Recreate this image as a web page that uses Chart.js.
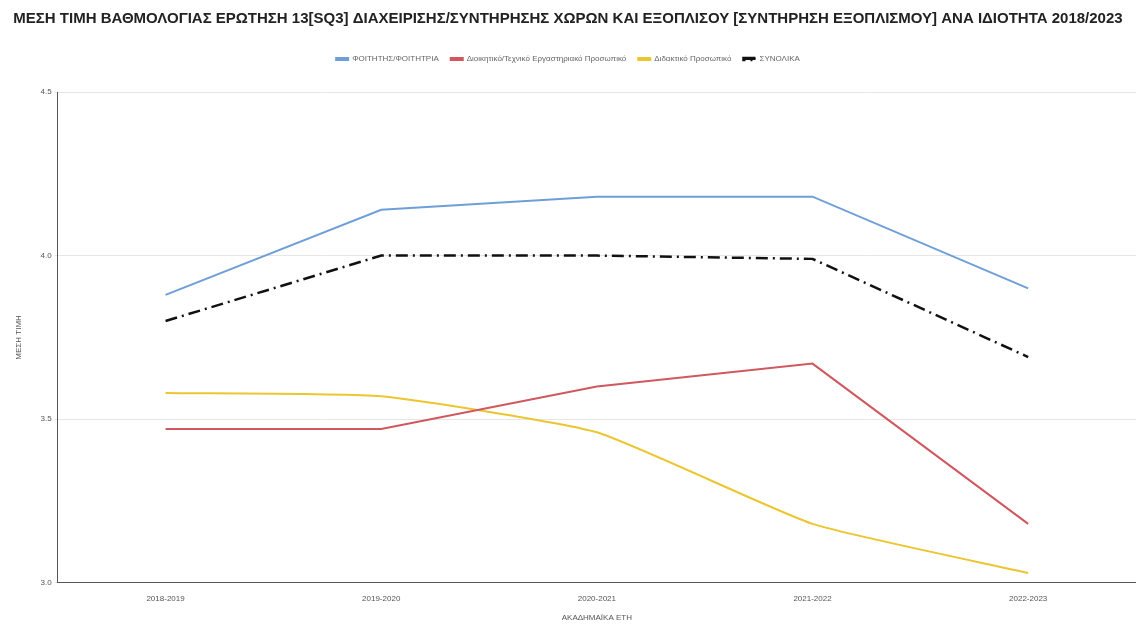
<!DOCTYPE html>
<html>
<head>
<meta charset="utf-8">
<script src="https://cdn.jsdelivr.net/npm/chart.js@4"></script>
<style>
  html, body { margin: 0; padding: 0; background: #fff; }
  #wrap { width: 1136px; height: 630px; position: relative; }
</style>
</head>
<body>
<div id="wrap"><canvas id="chart"></canvas></div>
<script>
// ακαδημαϊκά έτη
var years = ['2018-2019', '2019-2020', '2020-2021', '2021-2022', '2022-2023'];

// μέσες τιμές ανά ιδιότητα
var foitites = [3.88, 4.14, 4.18, 4.18, 3.90];
var dioikitiko = [3.47, 3.47, 3.60, 3.67, 3.18];
var didaktiko = [3.58, 3.57, 3.46, 3.18, 3.03];
var synolika = [3.80, 4.00, 4.00, 3.99, 3.69];

var yTicks = [3.0, 3.5, 4.0, 4.5];

// extra space under the legend
var legendSpace = {
  id: 'legendSpace',
  beforeInit: function (chart) {
    var fit = chart.legend.fit;
    chart.legend.fit = function () {
      fit.bind(chart.legend)();
      this.height += 19;
    };
  }
};

var ctx = document.getElementById('chart');
var myChart = new Chart(ctx, {
  type: 'line',
  data: {
    labels: years,
    datasets: [{
      label: 'ΦΟΙΤΗΤΗΣ/ΦΟΙΤΗΤΡΙΑ',
      data: foitites,
      borderColor: '#6f9fd8',
      backgroundColor: '#6f9fd8',
      borderWidth: 2,
      pointRadius: 0,
      tension: 0
    }, {
      label: 'Διοικητικό/Τεχνικό Εργαστηριακό Προσωπικό',
      data: dioikitiko,
      borderColor: '#d0585f',
      backgroundColor: '#d0585f',
      borderWidth: 2,
      pointRadius: 0,
      tension: 0
    }, {
      label: 'Διδακτικό Προσωπικό',
      data: didaktiko,
      borderColor: '#ecc631',
      backgroundColor: '#ecc631',
      borderWidth: 2,
      pointRadius: 0,
      tension: 0.15
    }, {
      label: 'ΣΥΝΟΛΙΚΑ',
      data: synolika,
      borderColor: '#111',
      backgroundColor: '#111',
      borderWidth: 2.5,
      borderDash: [12, 5, 2, 5],
      pointRadius: 0,
      tension: 0
    }]
  },
  options: {
    responsive: true,
    maintainAspectRatio: false,
    animation: false,
    layout: { padding: { left: 0, right: 0, top: 0, bottom: 3 } },
    plugins: {
      title: {
        display: true,
        text: 'ΜΕΣΗ ΤΙΜΗ ΒΑΘΜΟΛΟΓΙΑΣ ΕΡΩΤΗΣΗ 13[SQ3] ΔΙΑΧΕΙΡΙΣΗΣ/ΣΥΝΤΗΡΗΣΗΣ ΧΩΡΩΝ ΚΑΙ ΕΞΟΠΛΙΣΟΥ [ΣΥΝΤΗΡΗΣΗ ΕΞΟΠΛΙΣΜΟΥ] ΑΝΑ ΙΔΙΟΤΗΤΑ 2018/2023',
        color: '#222',
        font: { family: 'Liberation Sans', size: 15, weight: 'bold' },
        padding: { top: 10, bottom: 15 }
      },
      legend: {
        labels: {
          color: '#666',
          font: { family: 'Liberation Sans', size: 8 },
          boxWidth: 12,
          boxHeight: 2,
          padding: 12
        }
      },
      tooltip: { enabled: false }
    },
    scales: {
      x: {
        offset: true,
        grid: { display: false, drawTicks: true, tickLength: 5 },
        border: { color: '#555', width: 1 },
        ticks: { color: '#555', font: { family: 'Liberation Sans', size: 8 }, maxRotation: 0, padding: 6 },
        title: {
          display: true,
          text: 'ΑΚΑΔΗΜΑΪΚΑ ΕΤΗ',
          color: '#555',
          font: { family: 'Liberation Sans', size: 8 },
          padding: { top: 4, bottom: 4 }
        }
      },
      y: {
        min: 3.0,
        max: 4.5,
        afterBuildTicks: function (axis) {
          axis.ticks = yTicks.map(function (v) { return { value: v }; });
        },
        grid: { color: '#e6e6e6', drawTicks: true, tickLength: 3 },
        border: { color: '#555', width: 1 },
        ticks: {
          color: '#555',
          font: { family: 'Liberation Sans', size: 8 },
          callback: function (v) { return v.toFixed(1); }
        },
        title: {
          display: true,
          text: 'ΜΕΣΗ ΤΙΜΗ',
          color: '#555',
          font: { family: 'Liberation Sans', size: 8 },
          padding: 14
        }
      }
    }
  },
  plugins: [legendSpace]
});
</script>
</body>
</html>
